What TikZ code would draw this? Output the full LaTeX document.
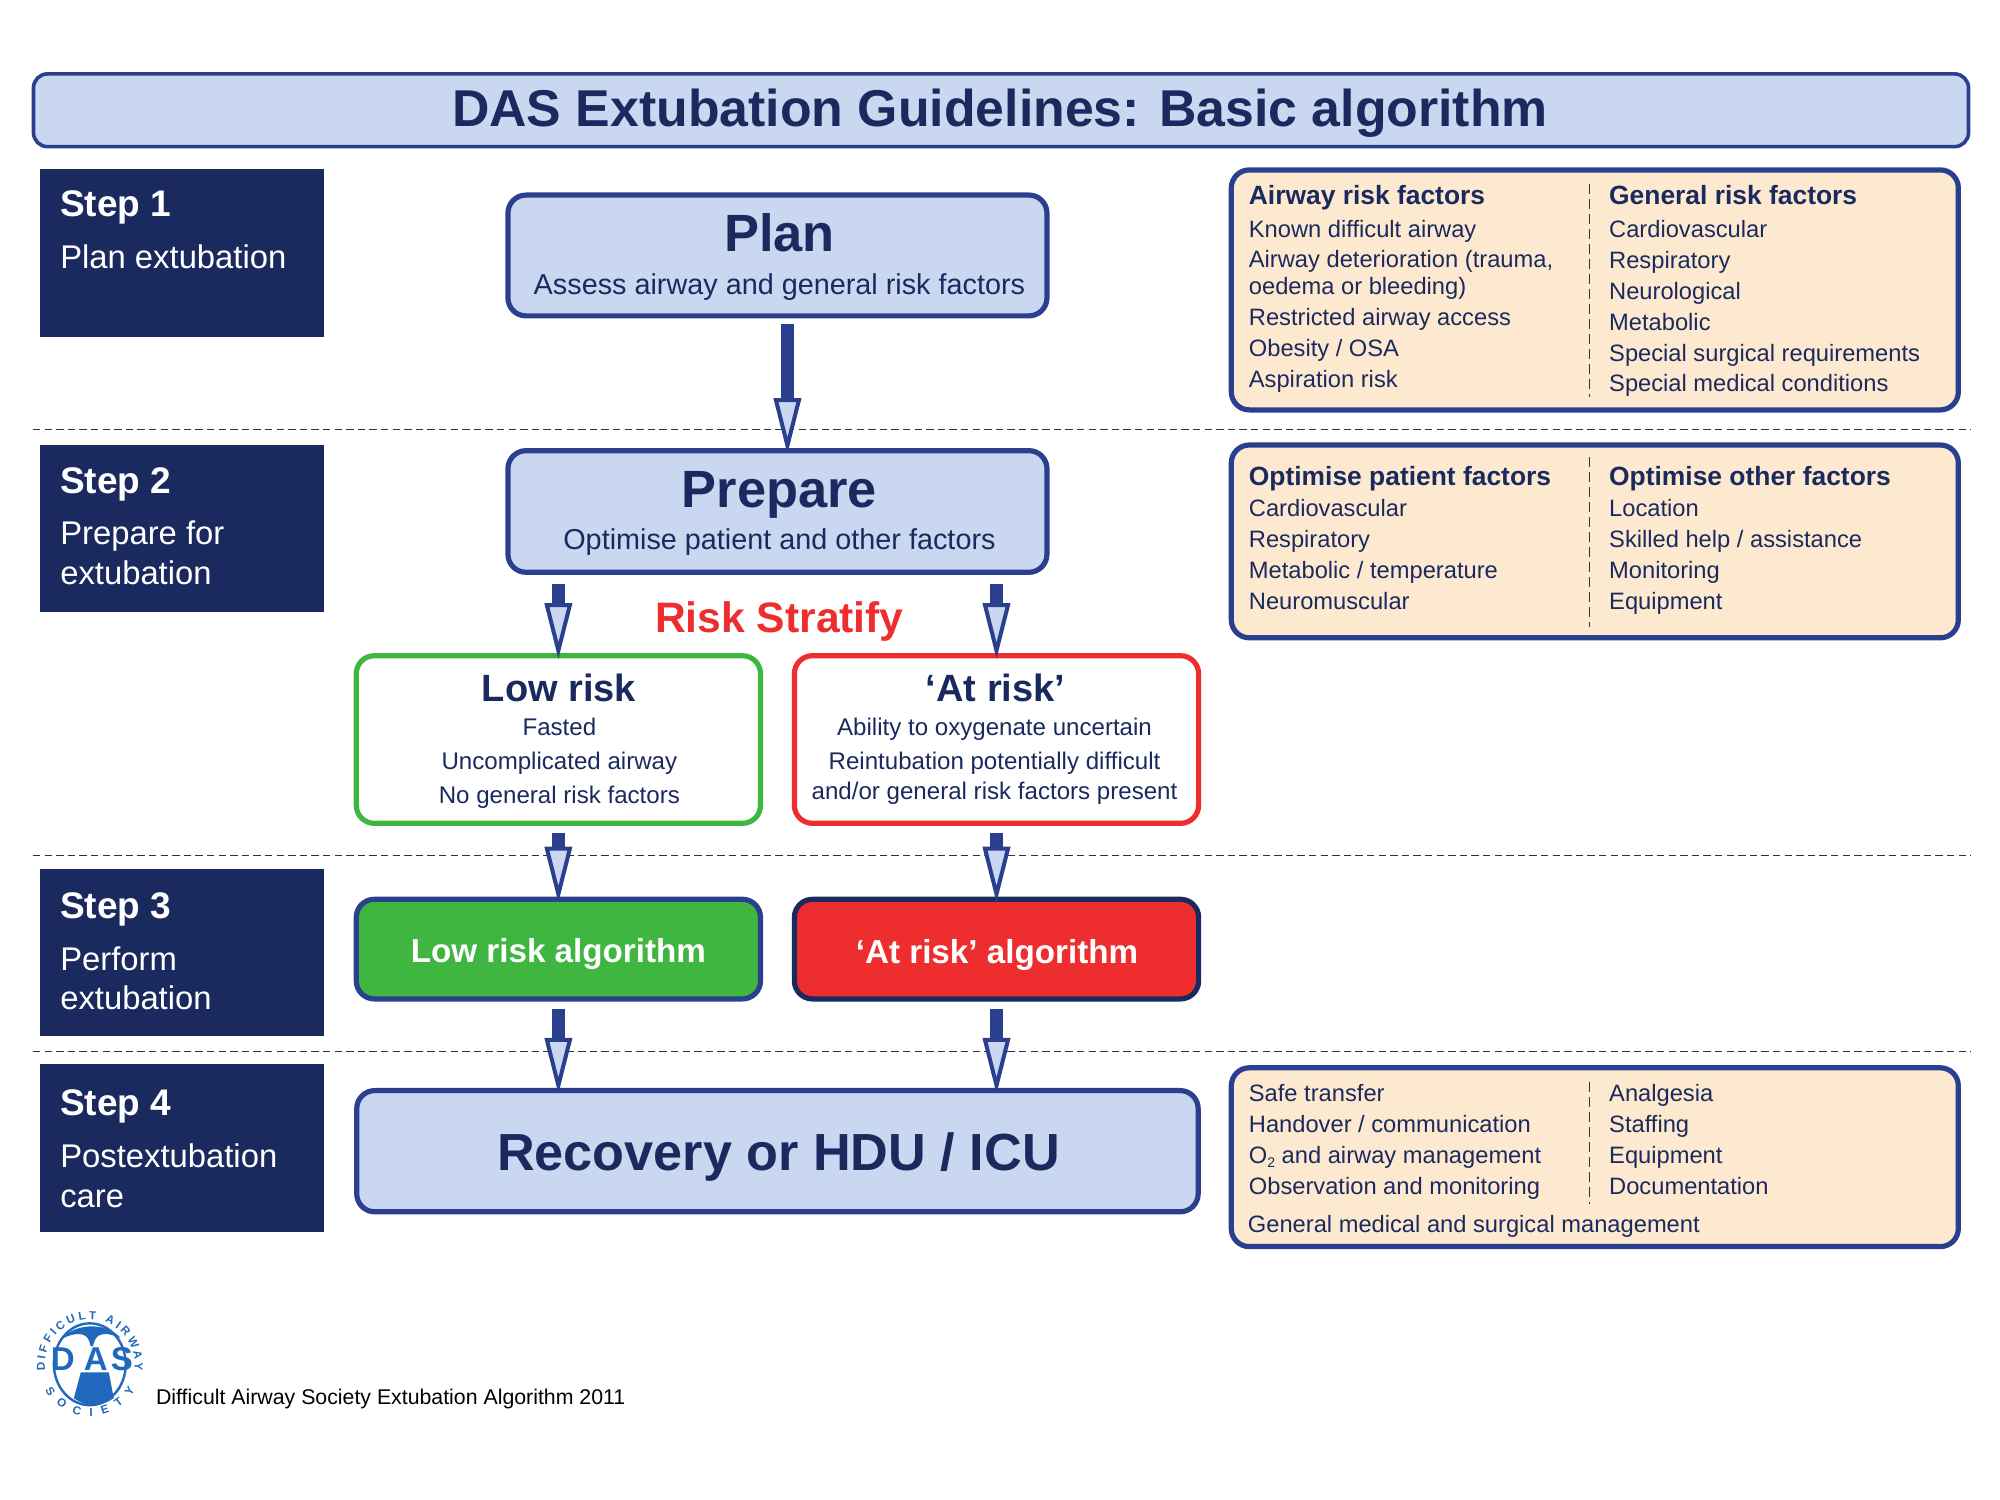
\documentclass[tikz,border=0pt]{standalone}
\usepackage{fontspec}
\setmainfont{Liberation Sans}
\usetikzlibrary{arrows.meta,decorations.text,calc}
\definecolor{navy}{HTML}{1B2A5E}
\definecolor{edge}{HTML}{2B3F8F}
\definecolor{pale}{HTML}{C9D7F0}
\definecolor{cream}{HTML}{FDE9D0}
\definecolor{okgreen}{HTML}{3FB63F}
\definecolor{alert}{HTML}{EE2E2E}
\definecolor{logoblue}{HTML}{1F68BE}
\definecolor{rule}{HTML}{303040}
\newcommand{\fs}[1]{\fontsize{#1}{#1}\selectfont}
\tikzset{
 x=0.499pt,y=-0.499pt,
 box/.style={draw=edge,line width=2.6pt,rounded corners=9pt,fill=pale},
 stepbox/.style={fill=navy,minimum width=141.8pt,minimum height=83.8pt,anchor=north west,inner sep=0pt},
 flow/.style={draw=edge,line width=6.8pt,shorten >=-3pt,-{Triangle[width=13.5pt,length=28pt,fill=pale,line width=2pt]}},
 sep/.style={draw=rule,line width=0.5pt,dash pattern=on 3.7pt off 2.1pt},
 vsep/.style={draw=rule,line width=0.4pt,dash pattern=on 5pt off 2.5pt},
 fact/.style={anchor=base west,inner sep=0pt,text=navy,font=\fs{11.85}},
 facth/.style={fact,font=\fs{13.2}\bfseries},
 logotext/.style={decorate,decoration={text along path,text align=fit to path,text={|\fs{5.8}\bfseries\color{logoblue}|#1}}},
}
\begin{document}
\begin{tikzpicture}
\useasboundingbox (0,0) rectangle (2004,1503);
% separators
\coordinate (s1a) at (33,430); \coordinate (s1b) at (1975,430);
\coordinate (s2a) at (33,857); \coordinate (s2b) at (1975,857);
\coordinate (s3a) at (33,1054); \coordinate (s3b) at (1975,1054);
\draw[sep] (s1a)--(s1b); \draw[sep] (s2a)--(s2b); \draw[sep] (s3a)--(s3b);
% title
\node[box,line width=1.8pt,rounded corners=7pt,minimum width=967.5pt,minimum height=36.4pt,inner sep=0pt] (title) at (1003,110.5) {};
\node[text=navy,font=\fs{25.9}\bfseries,inner sep=0pt,anchor=base] (titlet) at (1002,127) {DAS Extubation Guidelines: Basic algorithm};
% steps
\node[stepbox] (st1) at (40,169) {};
\node[stepbox] (st2) at (40,445) {};
\node[stepbox] (st3) at (40,870) {};
\node[stepbox] (st4) at (40,1066) {};
\foreach \n/\y/\h/\a/\b in {1/217/Step 1/Plan extubation/,2/494/Step 2/Prepare for/extubation,3/920/Step 3/Perform/extubation,4/1118/Step 4/Postextubation/care}{
 \node[anchor=base west,inner sep=0pt,text=white,font=\fs{18.5}\bfseries] (sh\n) at (60,\y) {\h};
 \node[anchor=base west,inner sep=0pt,text=white,font=\fs{16.4}] (sa\n) at (60,\y+52) {\a};
 \node[anchor=base west,inner sep=0pt,text=white,font=\fs{16.4}] (sb\n) at (60,\y+92) {\b};
}
% main boxes
\node[box,minimum width=269.5pt,minimum height=60.4pt,inner sep=0pt] (plan) at (779,256) {};
\node[box,minimum width=269.5pt,minimum height=60.8pt,inner sep=0pt] (prep) at (779,512.5) {};
\node[anchor=base,inner sep=0pt,text=navy,font=\fs{26.2}\bfseries] (plant) at (781,252) {Plan};
\node[anchor=base,inner sep=0pt,text=navy,font=\fs{14.4}] (plans) at (781,295) {Assess airway and general risk factors};
\node[anchor=base,inner sep=0pt,text=navy,font=\fs{26.2}\bfseries] (prept) at (781,509) {Prepare};
\node[anchor=base,inner sep=0pt,text=navy,font=\fs{14.4}] (preps) at (781,551) {Optimise patient and other factors};
\node[anchor=base,inner sep=0pt,text=alert,font=\fs{21.3}\bfseries] (rs) at (781,634) {Risk Stratify};
% risk boxes
\node[box,draw=okgreen,fill=white,minimum width=202.1pt,minimum height=83.8pt,inner sep=0pt] (low) at (559.5,741) {};
\node[box,draw=alert,fill=white,minimum width=202.1pt,minimum height=83.8pt,inner sep=0pt] (at) at (998.5,741) {};
\node[anchor=base,inner sep=0pt,text=navy,font=\fs{19}\bfseries] (lowt) at (560,703) {Low risk};
\node[anchor=base,inner sep=0pt,text=navy,font=\fs{19}\bfseries] (att) at (997.5,703) {‘At risk’};
\foreach \nm/\y/\t in {l1/737/Fasted,l2/771/Uncomplicated airway,l3/805/No general risk factors}{
 \node[anchor=base,inner sep=0pt,text=navy,font=\fs{12.05}] (\nm) at (560.5,\y) {\t};}
\foreach \nm/\y/\t in {a1/737/Ability to oxygenate uncertain,a2/771/Reintubation potentially difficult,a3/801/{and/or general risk factors present}}{
 \node[anchor=base,inner sep=0pt,text=navy,font=\fs{12.05}] (\nm) at (996.5,\y) {\t};}
% algorithms
\node[box,fill=okgreen,minimum width=202.1pt,minimum height=49.8pt,inner sep=0pt] (lowa) at (559.5,951) {};
\node[box,draw=navy,fill=alert,minimum width=202.1pt,minimum height=49.8pt,inner sep=0pt] (ata) at (998.5,951) {};
\node[anchor=base,inner sep=0pt,text=white,font=\fs{16.6}\bfseries] (lowat) at (559.5,964) {Low risk algorithm};
\node[anchor=base,inner sep=0pt,text=white,font=\fs{16.6}\bfseries] (atat) at (999,965) {‘At risk’ algorithm};
% recovery
\node[box,minimum width=420.7pt,minimum height=60.6pt,inner sep=0pt] (rec) at (779,1153.5) {};
\node[anchor=base,inner sep=0pt,text=navy,font=\fs{26.1}\bfseries] (rect) at (780,1173) {Recovery or HDU / ICU};
% factor boxes
\node[box,fill=cream,minimum width=363.5pt,minimum height=120pt,inner sep=0pt] (f1) at (1598,290.5) {};
\node[box,fill=cream,minimum width=363.5pt,minimum height=96.4pt,inner sep=0pt] (f2) at (1598,542.5) {};
\node[box,fill=cream,minimum width=363.5pt,minimum height=89.4pt,inner sep=0pt] (f3) at (1598,1159.5) {};
\coordinate (v1a) at (1593,184); \coordinate (v1b) at (1593,398);
\coordinate (v2a) at (1593,458); \coordinate (v2b) at (1593,628);
\coordinate (v3a) at (1593,1084); \coordinate (v3b) at (1593,1206);
\draw[vsep] (v1a)--(v1b); \draw[vsep] (v2a)--(v2b); \draw[vsep] (v3a)--(v3b);
\node[facth] (fa0) at (1251,204.5) {Airway risk factors};
\foreach \nm/\y/\t in {fa1/238/Known difficult airway,fa2/268/{Airway deterioration (trauma,},fa3/295/oedema or bleeding),fa4/326/Restricted airway access,fa5/357/{Obesity / OSA},fa6/388/Aspiration risk}{
 \node[fact] (\nm) at (1251,\y) {\t};}
\node[facth] (fb0) at (1612,204.5) {General risk factors};
\foreach \nm/\y/\t in {fb1/238/Cardiovascular,fb2/269/Respiratory,fb3/300/Neurological,fb4/331/Metabolic,fb5/362/Special surgical requirements,fb6/392/Special medical conditions}{
 \node[fact] (\nm) at (1612,\y) {\t};}
\node[facth] (fc0) at (1251,486) {Optimise patient factors};
\foreach \nm/\y/\t in {fc1/518/Cardiovascular,fc2/549/Respiratory,fc3/580/{Metabolic / temperature},fc4/611/Neuromuscular}{
 \node[fact] (\nm) at (1251,\y) {\t};}
\node[facth] (fd0) at (1612,486) {Optimise other factors};
\foreach \nm/\y/\t in {fd1/518/Location,fd2/549/{Skilled help / assistance},fd3/580/Monitoring,fd4/611/Equipment}{
 \node[fact] (\nm) at (1612,\y) {\t};}
\foreach \nm/\y/\t in {fe1/1104/Safe transfer,fe2/1135/{Handover / communication},fe3/1166/{O\raisebox{-0.3ex}{\fs{7}2} and airway management},fe4/1197/Observation and monitoring}{
 \node[fact] (\nm) at (1251,\y) {\t};}
\foreach \nm/\y/\t in {ff1/1104/Analgesia,ff2/1135/Staffing,ff3/1166/Equipment,ff4/1197/Documentation}{
 \node[fact] (\nm) at (1612,\y) {\t};}
\node[fact] (fg) at (1250,1235) {General medical and surgical management};
% arrows
\draw[flow] ($(plan.south)+(10,6)$) -- ($(prep.north)+(10,0)$);
\draw[flow] (prep.south -| low.north) ++(0,9) coordinate (p1) -- (low.north);
\draw[flow] (prep.south -| at.north) ++(0,9) coordinate (p2) -- (at.north);
\draw[flow] ($(low.south)+(0,7)$) -- (lowa.north);
\draw[flow] ($(at.south)+(0,7)$) -- (ata.north);
\draw[flow] ($(lowa.south)+(0,8)$) -- (lowa.south |- rec.north);
\draw[flow] ($(ata.south)+(0,8)$) -- (ata.south |- rec.north);
% footer
\node[anchor=base west,inner sep=0pt,text=black,font=\fs{10.65}] (foot) at (156,1407) {Difficult Airway Society Extubation Algorithm 2011};
% logo
\begin{scope}[shift={(90,1367)}]
\draw[logoblue,line width=1.2pt] (0,0) ellipse (36 and 41);
\fill[logoblue] (-27,-26) .. controls (-15,-42) and (19,-42) .. (31,-26) .. controls (19,-32) and (8,-32) .. (5,-24) -- (3,-18) -- (1,-18) -- (-1,-24) .. controls (-4,-32) and (-15,-32) .. (-27,-26) -- cycle;
\fill[logoblue] (-9,8) -- (19,8) -- (24,34) .. controls (10,43) and (-4,43) .. (-16,34) -- cycle;
\node[text=logoblue,font=\fs{16.5}\bfseries,inner sep=0pt] (ld) at (-27,-5) {D};
\node[text=logoblue,font=\fs{16.5}\bfseries,inner sep=0pt] (la) at (6,-5) {A};
\node[text=logoblue,font=\fs{16.5}\bfseries,inner sep=0pt] (ls) at (32,-5) {S};
\path[logotext={DIFFICULT AIRWAY}] (-44.6,6.3) arc (172:368:45);
\path[logotext={SOCIETY}] (-45,26) arc (150:30:52);
\end{scope}
\end{tikzpicture}
\end{document}
